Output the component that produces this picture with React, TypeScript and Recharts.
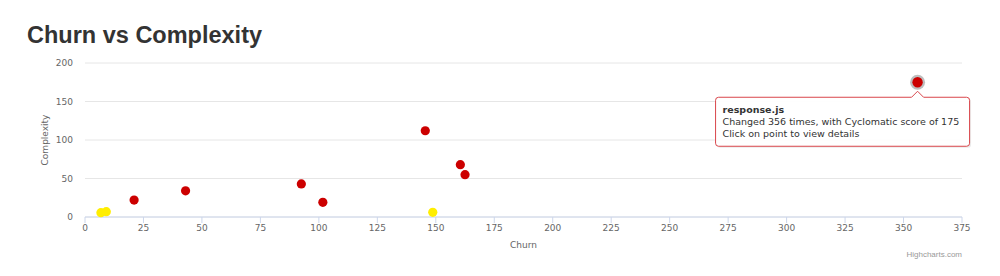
import React from 'react';
import { ScatterChart, Scatter, XAxis, YAxis, CartesianGrid } from 'recharts';

// churn (commits) and cyclomatic complexity per file
const redChurn = [21, 43, 92.5, 101.7, 145.5, 160.5, 162.5, 356];
const redComplexity = [22, 34, 43, 19, 112, 68, 55, 175];
const yellowChurn = [6.8, 9.1, 148.7];
const yellowComplexity = [5.6, 6.9, 6.1];

const activeIndex = 7;
const activeFile = 'response.js';

const xTicks = [0, 25, 50, 75, 100, 125, 150, 175, 200, 225, 250, 275, 300, 325, 350, 375];
const yTicks = [0, 50, 100, 150, 200];

const redData = redChurn.map((x, i) => ({ x, y: redComplexity[i], idx: i }));
const yellowData = yellowChurn.map((x, i) => ({ x, y: yellowComplexity[i], idx: i }));

const RED = '#cc0000';
const YELLOW = '#ffee00';
const axisFont = '"DejaVu Sans", sans-serif';

function RedPoint(props: any) {
  const { cx, cy, payload } = props;
  if (cx == null || cy == null) return null;
  if (payload.idx !== activeIndex) {
    return <circle cx={cx} cy={cy} r={4.6} fill={RED} />;
  }
  const left = cx - 202;
  const top = cy + 15;
  const w = 254;
  const h = 49;
  const border = '#d9464b';
  const path = `M ${left + 3} ${top} L ${cx - 6} ${top} L ${cx} ${top - 6} L ${cx + 6} ${top} L ${left + w - 3} ${top} Q ${left + w} ${top} ${left + w} ${top + 3} L ${left + w} ${top + h - 3} Q ${left + w} ${top + h} ${left + w - 3} ${top + h} L ${left + 3} ${top + h} Q ${left} ${top + h} ${left} ${top + h - 3} L ${left} ${top + 3} Q ${left} ${top} ${left + 3} ${top} Z`;
  return (
    <g>
      <circle cx={cx} cy={cy} r={7.5} fill="#888" opacity={0.55} />
      <circle cx={cx} cy={cy} r={5.2} fill={RED} />
      <path d={path} fill="#000" opacity={0.08} transform="translate(1.5,1.5)" />
      <path d={path} fill="rgba(255,255,255,0.96)" stroke={border} strokeWidth={1} />
      <text fontFamily={axisFont} fontSize={9.5} fill="#333">
        <tspan x={left + 7} y={top + 15.5} fontWeight="bold">{activeFile}</tspan>
        <tspan x={left + 7} y={top + 28}>
          {`Changed ${Math.round(payload.x)} times, with Cyclomatic score of ${payload.y}`}
        </tspan>
        <tspan x={left + 7} y={top + 40}>Click on point to view details</tspan>
      </text>
    </g>
  );
}

function YellowPoint(props: any) {
  const { cx, cy } = props;
  if (cx == null || cy == null) return null;
  return <circle cx={cx} cy={cy} r={4.6} fill={YELLOW} />;
}

export default function App() {
  return (
    <div style={{ position: 'relative', width: 1000, height: 276, background: '#fff' }}>
      <style>{'body{margin:0}'}</style>
      <div
        style={{
          position: 'absolute',
          left: 27,
          top: 23,
          fontFamily: '"Liberation Sans", Arial, sans-serif',
          fontSize: 23.5,
          lineHeight: '24px',
          fontWeight: 'bold',
          color: '#333',
          whiteSpace: 'nowrap',
        }}
      >
        Churn vs Complexity
      </div>
      <ScatterChart width={1000} height={276} margin={{ top: 63, right: 38, bottom: 19, left: 25 }}>
        <CartesianGrid horizontal vertical={false} stroke="#e6e6e6" />
        <XAxis
          type="number"
          dataKey="x"
          domain={[0, 375]}
          ticks={xTicks}
          interval={0}
          height={40}
          stroke="#ccd6eb"
          tickSize={6}
          tick={{ fill: '#666', fontSize: 9, fontFamily: axisFont }}
          label={{ value: 'Churn', position: 'insideBottom', offset: 9, fill: '#666', fontSize: 9, fontFamily: axisFont }}
        />
        <YAxis
          type="number"
          dataKey="y"
          domain={[0, 200]}
          ticks={yTicks}
          width={60}
          axisLine={false}
          tickLine={false}
          tickSize={10}
          tickMargin={2}
          tick={{ fill: '#666', fontSize: 9, fontFamily: axisFont }}
          label={{
            value: 'Complexity',
            angle: -90,
            position: 'insideLeft',
            offset: 20,
            fill: '#666',
            fontSize: 9,
            fontFamily: axisFont,
            style: { textAnchor: 'middle' },
          }}
        />
        <Scatter data={yellowData} fill={YELLOW} shape={YellowPoint} isAnimationActive={false} />
        <Scatter data={redData} fill={RED} shape={RedPoint} isAnimationActive={false} />
      </ScatterChart>
      <div
        style={{
          position: 'absolute',
          right: 38,
          top: 251,
          fontFamily: '"Liberation Sans", Arial, sans-serif',
          fontSize: 8,
          lineHeight: '8px',
          color: '#999',
        }}
      >
        Highcharts.com
      </div>
    </div>
  );
}
